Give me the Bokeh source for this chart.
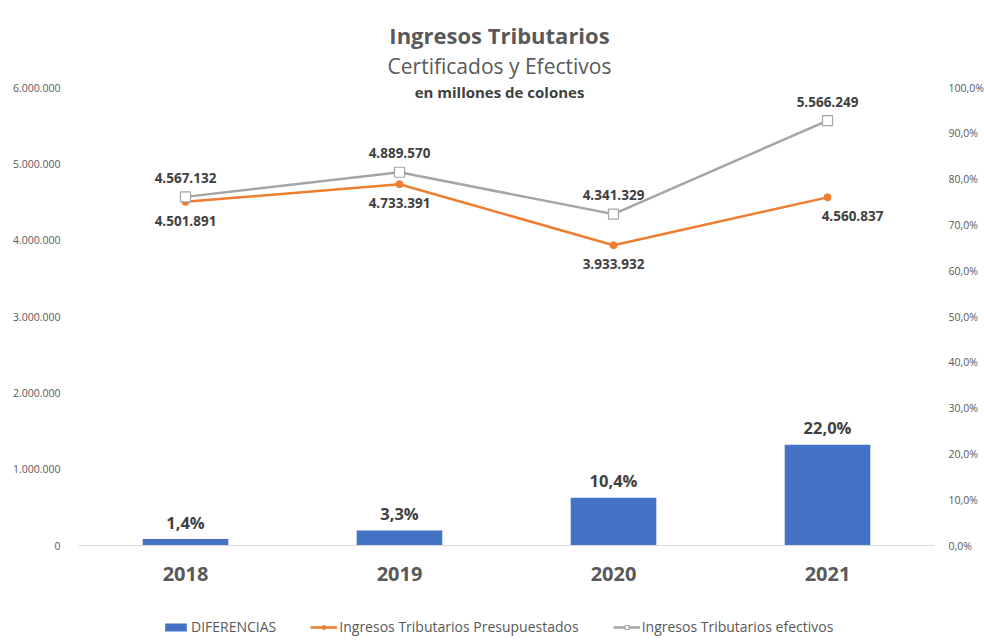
from bokeh.plotting import figure
from bokeh.models import (FactorRange, Range1d, LinearAxis, FixedTicker, ColumnDataSource,
                          Legend, LegendItem, Label, Span)
from bokeh.embed import file_html
from bokeh.resources import INLINE
from bokeh.core.properties import value

# ---- data ----
years = ["2018", "2019", "2020", "2021"]
presupuestados = [4501891, 4733391, 3933932, 4560837]
efectivos = [4567132, 4889570, 4341329, 5566249]
diferencias_pct = [1.4, 3.3, 10.4, 22.0]

left_ticks = [0, 1000000, 2000000, 3000000, 4000000, 5000000, 6000000]
left_tick_labels = ["0", "1.000.000", "2.000.000", "3.000.000", "4.000.000", "5.000.000", "6.000.000"]
right_ticks = [0, 10, 20, 30, 40, 50, 60, 70, 80, 90, 100]
right_tick_labels = ["0,0%", "10,0%", "20,0%", "30,0%", "40,0%", "50,0%", "60,0%", "70,0%", "80,0%", "90,0%", "100,0%"]

title_text = "Ingresos Tributarios"
subtitle_text = "Certificados y Efectivos"
units_text = "en millones de colones"


def fmt_num(v):
    return f"{v:,}".replace(",", ".")


def fmt_pct(v):
    return f"{v:.1f}".replace(".", ",") + "%"


FONT = "Open Sans"
BLUE = "#4472C4"
ORANGE = "#ED7D31"
GRAY = "#A5A5A5"
TXT = "#595959"
LBL = "#404040"

# ---- layout (pixels) ----
FRAME_TOP = 4        # canvas y of frame top
FRAME_BOTTOM = 640   # canvas y of frame bottom
AX_TOP = 87          # canvas y of the axes' maximum
AX_ZERO = 545        # canvas y of zero
AX_PX = AX_ZERO - AX_TOP
L_MAX = left_ticks[-1]
R_MAX = right_ticks[-1]

y_start = -L_MAX * (FRAME_BOTTOM - AX_ZERO) / AX_PX
y_end = L_MAX * (AX_ZERO - FRAME_TOP) / AX_PX
r_start = -R_MAX * (FRAME_BOTTOM - AX_ZERO) / AX_PX
r_end = R_MAX * (AX_ZERO - FRAME_TOP) / AX_PX

src = ColumnDataSource(dict(
    year=years,
    pres=presupuestados,
    efec=efectivos,
    dif=diferencias_pct,
    zero=[0] * len(years),
    pres_lbl=[fmt_num(v) for v in presupuestados],
    efec_lbl=[fmt_num(v) for v in efectivos],
    dif_lbl=[fmt_pct(v) for v in diferencias_pct],
    pres_dx=[0, 0, 0, 25],
))

p = figure(x_range=FactorRange(*years), y_range=Range1d(y_start, y_end),
           frame_width=856, frame_height=FRAME_BOTTOM - FRAME_TOP,
           output_backend="svg", toolbar_location=None,
           min_border_left=78, min_border_right=46, min_border_top=FRAME_TOP, min_border_bottom=0)
p.extra_y_ranges = {"pct": Range1d(r_start, r_end)}
p.outline_line_color = None
p.xgrid.grid_line_color = None
p.ygrid.grid_line_color = None
p.background_fill_color = "white"
p.border_fill_color = "white"
p.xaxis.visible = False

# left axis
p.yaxis.ticker = FixedTicker(ticks=left_ticks)
p.yaxis.major_label_overrides = {t: l for t, l in zip(left_ticks, left_tick_labels)}
p.yaxis.axis_line_color = None
p.yaxis.major_tick_line_color = None
p.yaxis.minor_tick_line_color = None
p.yaxis.major_label_text_color = TXT
p.yaxis.major_label_text_font = FONT
p.yaxis.major_label_text_font_size = "10.5px"
p.yaxis.major_label_standoff = 12

# right axis
ax_r = LinearAxis(y_range_name="pct", ticker=FixedTicker(ticks=right_ticks))
ax_r.major_label_overrides = {t: l for t, l in zip(right_ticks, right_tick_labels)}
ax_r.axis_line_color = None
ax_r.major_tick_line_color = None
ax_r.minor_tick_line_color = None
ax_r.major_label_text_color = TXT
ax_r.major_label_text_font = FONT
ax_r.major_label_text_font_size = "10.5px"
ax_r.major_label_standoff = 8
p.add_layout(ax_r, "right")

# category baseline and labels
p.add_layout(Span(location=0, dimension="width", line_color="#D9D9D9", line_width=1))
p.text(x="year", y="zero", text="year", source=src, text_align="center", text_baseline="middle",
       y_offset=28, text_font=value(FONT), text_font_style="bold", text_font_size="20px",
       text_color=TXT)

# bars
bars = p.vbar(x="year", top="dif", width=0.4, source=src, y_range_name="pct",
              fill_color=BLUE, line_color=None)
p.text(x="year", y="dif", text="dif_lbl", source=src, y_range_name="pct",
       text_align="center", text_baseline="middle", y_offset=-17,
       text_font=value(FONT), text_font_style="bold", text_font_size="16.5px", text_color=LBL)

# lines
l_pres = p.line(x="year", y="pres", source=src, line_color=ORANGE, line_width=2.5)
m_pres = p.scatter(x="year", y="pres", source=src, marker="circle", size=7,
                   fill_color=ORANGE, line_color=ORANGE)
l_efec = p.line(x="year", y="efec", source=src, line_color=GRAY, line_width=2.5)
m_efec = p.scatter(x="year", y="efec", source=src, marker="square", size=10,
                   fill_color="white", line_color=GRAY, line_width=1.2)

p.text(x="year", y="efec", text="efec_lbl", source=src,
       text_align="center", text_baseline="middle", y_offset=-19,
       text_font=value(FONT), text_font_style="bold", text_font_size="13.5px", text_color=LBL)
p.text(x="year", y="pres", text="pres_lbl", source=src, x_offset="pres_dx",
       text_align="center", text_baseline="middle", y_offset=19,
       text_font=value(FONT), text_font_style="bold", text_font_size="13.5px", text_color=LBL)

# titles (screen units relative to frame bottom-left)
TX = 499 - 78
p.add_layout(Label(x=TX, y=FRAME_BOTTOM - 34, x_units="screen", y_units="screen", text=title_text,
                   text_align="center", text_baseline="middle", text_font=FONT,
                   text_font_style="bold", text_font_size="22px", text_color=TXT))
p.add_layout(Label(x=TX, y=FRAME_BOTTOM - 65, x_units="screen", y_units="screen", text=subtitle_text,
                   text_align="center", text_baseline="middle", text_font=FONT,
                   text_font_size="21px", text_color=TXT))
p.add_layout(Label(x=TX, y=FRAME_BOTTOM - 91, x_units="screen", y_units="screen", text=units_text,
                   text_align="center", text_baseline="middle", text_font=FONT,
                   text_font_style="bold", text_font_size="15px", text_color=LBL))

legend = Legend(items=[
    LegendItem(label="DIFERENCIAS", renderers=[bars]),
    LegendItem(label="Ingresos Tributarios Presupuestados", renderers=[l_pres, m_pres]),
    LegendItem(label="Ingresos Tributarios efectivos", renderers=[l_efec, m_efec]),
], orientation="horizontal", location=(162 - 78, FRAME_BOTTOM - 636))
legend.background_fill_alpha = 0
legend.border_line_color = None
legend.label_text_font = FONT
legend.label_text_font_size = "14px"
legend.label_text_color = TXT
legend.glyph_width = 27
legend.glyph_height = 10
legend.label_standoff = 2
legend.spacing = 34
legend.padding = 0
legend.margin = 0
p.add_layout(legend, "center")

open("out.html", "w").write(file_html(p, INLINE))
